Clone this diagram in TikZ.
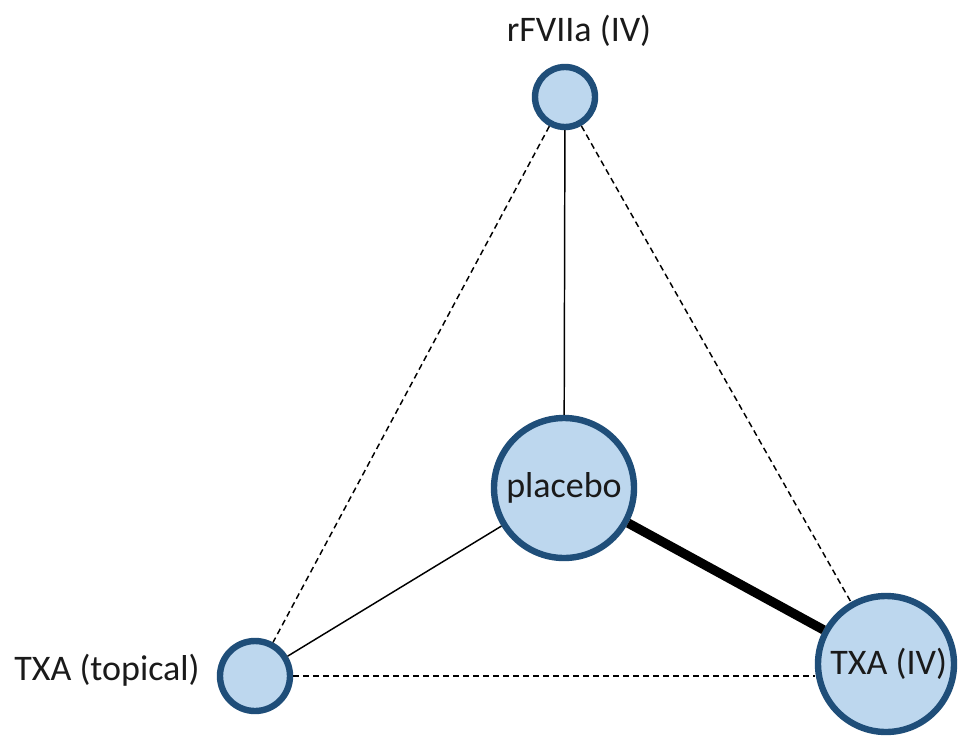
\documentclass[tikz,border=0pt]{standalone}
\usepackage{fontspec}
\setmainfont{Carlito}
\definecolor{nodefill}{HTML}{BDD7EE}
\definecolor{nodeedge}{HTML}{1F4E79}
\definecolor{labeltext}{HTML}{1A1A1A}
\begin{document}
\begin{tikzpicture}[x=0.75pt,y=-0.75pt,
  treat/.style={circle,draw=nodeedge,fill=nodefill,line width=4.8pt,inner sep=0pt,
    font=\fontsize{27}{32}\selectfont,text=labeltext},
  namelabel/.style={font=\fontsize{27}{32}\selectfont,text=labeltext,inner sep=0pt},
  solidlink/.style={line width=1.1pt,black},
  heavylink/.style={line width=7pt,black},
  dashlink/.style={line width=1.1pt,black,dash pattern=on 4.5pt off 3pt}]
\useasboundingbox (0,0) rectangle (959,735);
\fill[white] (0,0) rectangle (959,735);

% treatment nodes
\node[treat,minimum size=45pt] (rf) at (565,97) {};
\node[treat,minimum size=105pt] (pl) at (564,488) {placebo};
\node[treat,minimum size=52.5pt] (top) at (255,676) {};
\node[treat,minimum size=102pt] (iv) at (886,664) {\hspace{4pt}TXA (IV)};

% outside names
\node[namelabel] (rflabel) at (579,31) {rFVIIa (IV)};
\node[namelabel] (toplabel) at (107,670) {TXA (topical)};

% comparisons
\draw[solidlink] (rf) -- (pl);
\draw[solidlink] (pl) -- (top);
\draw[heavylink] (pl) -- (iv);
\draw[dashlink] (rf) -- (top);
\draw[dashlink] (rf) -- (iv);
\draw[dashlink] (top.east) -- (top.east -| iv.west);
\end{tikzpicture}
\end{document}
